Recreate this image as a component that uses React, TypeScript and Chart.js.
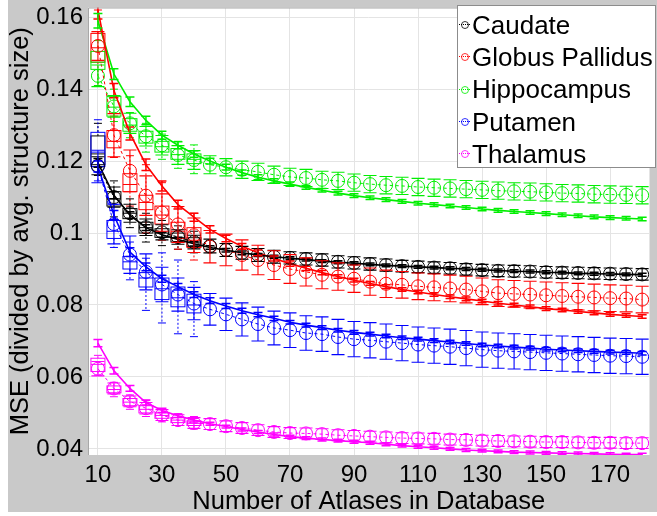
import React, { useEffect, useRef } from "react";
import { Chart, registerables } from "chart.js";

Chart.register(...registerables);

const FONT = '"Liberation Sans", Arial, Helvetica, sans-serif';

const atlasCounts = [10, 15, 20, 25, 30, 35, 40, 45, 50, 55, 60, 65, 70, 75, 80, 85, 90, 95, 100, 105, 110, 115, 120, 125, 130, 135, 140, 145, 150, 155, 160, 165, 170, 175, 180];
const boxCounts = [10, 15, 20, 25, 30, 35, 40];
const xTickValues = [10, 30, 50, 70, 90, 110, 130, 150, 170];
const yTickValues = [0.04, 0.06, 0.08, 0.1, 0.12, 0.14, 0.16];
const yTickLabels = ["0.04", "0.06", "0.08", "0.1", "0.12", "0.14", "0.16"];
const structureNames = ["Caudate", "Globus Pallidus", "Hippocampus", "Putamen", "Thalamus"];
const structureColors = ["#000000", "#ff0000", "#00ee00", "#0000ff", "#ff00ff"];

// Caudate
const caudateMean = [0.1187, 0.1100, 0.1055, 0.1016, 0.1002, 0.0989, 0.0975, 0.0964, 0.0953, 0.0945, 0.0939, 0.0934, 0.0931, 0.0928, 0.0925, 0.0920, 0.0917, 0.0914, 0.0911, 0.0908, 0.0906, 0.0904, 0.0902, 0.0899, 0.0897, 0.0895, 0.0894, 0.0893, 0.0891, 0.0890, 0.0889, 0.0888, 0.0887, 0.0886, 0.0885];
const caudateErr = [0.0025, 0.0028, 0.0025, 0.0023, 0.0021, 0.0020, 0.0019, 0.0019, 0.0018, 0.0018, 0.0018, 0.0018, 0.0017, 0.0017, 0.0017, 0.0017, 0.0017, 0.0017, 0.0017, 0.0016, 0.0016, 0.0016, 0.0016, 0.0016, 0.0016, 0.0016, 0.0016, 0.0016, 0.0016, 0.0016, 0.0016, 0.0016, 0.0016, 0.0016, 0.0016];
const caudateFit = [0.1195, 0.1105, 0.1050, 0.1015, 0.0995, 0.0982, 0.0970, 0.0960, 0.0952, 0.0945, 0.0939, 0.0934, 0.0930, 0.0926, 0.0922, 0.0919, 0.0916, 0.0913, 0.0910, 0.0908, 0.0906, 0.0904, 0.0902, 0.0900, 0.0898, 0.0896, 0.0894, 0.0893, 0.0891, 0.0890, 0.0888, 0.0887, 0.0886, 0.0885, 0.0884];
const caudateFitErr = [0.0012, 0.0010, 0.0009, 0.0008, 0.0007, 0.0006, 0.0006, 0.0005, 0.0005, 0.0005, 0.0004, 0.0004, 0.0004, 0.0004, 0.0004, 0.0004, 0.0004, 0.0004, 0.0004, 0.0004, 0.0004, 0.0004, 0.0004, 0.0004, 0.0004, 0.0004, 0.0004, 0.0004, 0.0004, 0.0004, 0.0004, 0.0004, 0.0004, 0.0004, 0.0004];
const caudateBoxes = [
  [0.1160, 0.1190, 0.1220, 0.1270, 0.1305],
  [0.1045, 0.1075, 0.1095, 0.1115, 0.1145],
  [0.1015, 0.1040, 0.1055, 0.1068, 0.1095],
  [0.0975, 0.1000, 0.1015, 0.1030, 0.1055],
  [0.0965, 0.0988, 0.1000, 0.1012, 0.1035],
  [0.0955, 0.0975, 0.0987, 0.1000, 0.1020],
  [0.0945, 0.0963, 0.0975, 0.0987, 0.1005],
];

// Globus Pallidus
const pallidusMean = [0.1520, 0.1272, 0.1173, 0.1104, 0.1057, 0.1024, 0.0994, 0.0962, 0.0953, 0.0939, 0.0925, 0.0911, 0.0900, 0.0892, 0.0884, 0.0879, 0.0873, 0.0865, 0.0859, 0.0856, 0.0852, 0.0849, 0.0846, 0.0843, 0.0838, 0.0833, 0.0831, 0.0829, 0.0827, 0.0825, 0.0823, 0.0821, 0.0819, 0.0818, 0.0815];
const pallidusErr = [0.0040, 0.0060, 0.0058, 0.0055, 0.0052, 0.0050, 0.0048, 0.0045, 0.0044, 0.0042, 0.0041, 0.0040, 0.0040, 0.0039, 0.0039, 0.0038, 0.0038, 0.0038, 0.0038, 0.0037, 0.0037, 0.0037, 0.0037, 0.0037, 0.0037, 0.0037, 0.0037, 0.0037, 0.0037, 0.0037, 0.0037, 0.0037, 0.0037, 0.0037, 0.0037];
const pallidusFit = [0.1620, 0.1396, 0.1277, 0.1190, 0.1131, 0.1079, 0.1044, 0.1010, 0.0985, 0.0963, 0.0945, 0.0929, 0.0915, 0.0902, 0.0890, 0.0879, 0.0869, 0.0860, 0.0851, 0.0843, 0.0836, 0.0829, 0.0823, 0.0817, 0.0811, 0.0805, 0.0800, 0.0795, 0.0790, 0.0786, 0.0782, 0.0778, 0.0774, 0.0771, 0.0768];
const pallidusFitErr = [0.0025, 0.0020, 0.0018, 0.0016, 0.0014, 0.0012, 0.0011, 0.0010, 0.0009, 0.0008, 0.0008, 0.0007, 0.0007, 0.0006, 0.0006, 0.0005, 0.0005, 0.0005, 0.0005, 0.0005, 0.0005, 0.0005, 0.0005, 0.0005, 0.0005, 0.0005, 0.0005, 0.0005, 0.0005, 0.0005, 0.0005, 0.0005, 0.0005, 0.0005, 0.0005];
const pallidusBoxes = [
  [0.1410, 0.1475, 0.1515, 0.1555, 0.1620],
  [0.1210, 0.1237, 0.1255, 0.1285, 0.1325],
  [0.1075, 0.1115, 0.1135, 0.1165, 0.1215],
  [0.1000, 0.1065, 0.1085, 0.1105, 0.1190],
  [0.0980, 0.1025, 0.1050, 0.1075, 0.1140],
  [0.0955, 0.0985, 0.1005, 0.1030, 0.1070],
  [0.0925, 0.0960, 0.0980, 0.1015, 0.1055],
];

// Hippocampus
const hippocampusMean = [0.1437, 0.1352, 0.1305, 0.1269, 0.1244, 0.1217, 0.1203, 0.1190, 0.1183, 0.1176, 0.1170, 0.1162, 0.1156, 0.1153, 0.1148, 0.1145, 0.1140, 0.1136, 0.1133, 0.1131, 0.1128, 0.1126, 0.1124, 0.1122, 0.1120, 0.1118, 0.1116, 0.1115, 0.1113, 0.1111, 0.1110, 0.1108, 0.1107, 0.1106, 0.1105];
const hippocampusErr = [0.0030, 0.0030, 0.0028, 0.0027, 0.0027, 0.0026, 0.0026, 0.0025, 0.0024, 0.0024, 0.0024, 0.0024, 0.0024, 0.0024, 0.0024, 0.0024, 0.0024, 0.0024, 0.0024, 0.0024, 0.0024, 0.0024, 0.0024, 0.0024, 0.0024, 0.0024, 0.0024, 0.0024, 0.0024, 0.0024, 0.0024, 0.0024, 0.0024, 0.0024, 0.0024];
const hippocampusFit = [0.1590, 0.1442, 0.1365, 0.1313, 0.1272, 0.1244, 0.1220, 0.1200, 0.1183, 0.1168, 0.1155, 0.1145, 0.1136, 0.1127, 0.1119, 0.1111, 0.1104, 0.1098, 0.1093, 0.1088, 0.1083, 0.1079, 0.1075, 0.1071, 0.1067, 0.1063, 0.1060, 0.1057, 0.1054, 0.1051, 0.1048, 0.1045, 0.1043, 0.1041, 0.1039];
const hippocampusFitErr = [0.0020, 0.0015, 0.0013, 0.0012, 0.0011, 0.0010, 0.0009, 0.0008, 0.0008, 0.0007, 0.0007, 0.0006, 0.0006, 0.0005, 0.0005, 0.0005, 0.0005, 0.0005, 0.0005, 0.0005, 0.0005, 0.0005, 0.0005, 0.0005, 0.0005, 0.0005, 0.0005, 0.0005, 0.0005, 0.0005, 0.0005, 0.0005, 0.0005, 0.0005, 0.0005];
const hippocampusBoxes = [
  [0.1410, 0.1455, 0.1475, 0.1505, 0.1535],
  [0.1310, 0.1325, 0.1350, 0.1380, 0.1400],
  [0.1265, 0.1283, 0.1300, 0.1318, 0.1335],
  [0.1225, 0.1250, 0.1268, 0.1283, 0.1305],
  [0.1205, 0.1225, 0.1240, 0.1255, 0.1275],
  [0.1180, 0.1205, 0.1218, 0.1235, 0.1255],
  [0.1165, 0.1193, 0.1205, 0.1220, 0.1245],
];

// Putamen
const putamenMean = [0.1185, 0.1025, 0.0940, 0.0892, 0.0857, 0.0829, 0.0804, 0.0788, 0.0774, 0.0760, 0.0747, 0.0736, 0.0730, 0.0722, 0.0719, 0.0711, 0.0705, 0.0702, 0.0698, 0.0694, 0.0690, 0.0687, 0.0684, 0.0680, 0.0676, 0.0673, 0.0671, 0.0669, 0.0667, 0.0665, 0.0663, 0.0661, 0.0659, 0.0658, 0.0656];
const putamenErr = [0.0045, 0.0055, 0.0052, 0.0050, 0.0048, 0.0046, 0.0045, 0.0044, 0.0045, 0.0046, 0.0047, 0.0047, 0.0048, 0.0048, 0.0048, 0.0049, 0.0049, 0.0049, 0.0049, 0.0049, 0.0049, 0.0049, 0.0049, 0.0049, 0.0049, 0.0049, 0.0049, 0.0049, 0.0049, 0.0049, 0.0049, 0.0049, 0.0049, 0.0049, 0.0049];
const putamenFit = [0.1185, 0.1050, 0.0947, 0.0906, 0.0873, 0.0851, 0.0829, 0.0812, 0.0797, 0.0784, 0.0773, 0.0763, 0.0752, 0.0744, 0.0737, 0.0730, 0.0724, 0.0719, 0.0714, 0.0709, 0.0705, 0.0701, 0.0697, 0.0693, 0.0689, 0.0686, 0.0683, 0.0680, 0.0677, 0.0675, 0.0673, 0.0671, 0.0669, 0.0668, 0.0666];
const putamenFitErr = [0.0015, 0.0013, 0.0012, 0.0011, 0.0010, 0.0009, 0.0008, 0.0008, 0.0007, 0.0007, 0.0006, 0.0006, 0.0005, 0.0005, 0.0005, 0.0005, 0.0005, 0.0005, 0.0005, 0.0005, 0.0005, 0.0005, 0.0005, 0.0005, 0.0005, 0.0005, 0.0005, 0.0005, 0.0005, 0.0005, 0.0005, 0.0005, 0.0005, 0.0005, 0.0005];
const putamenBoxes = [
  [0.1145, 0.1185, 0.1225, 0.1280, 0.1315],
  [0.0960, 0.0985, 0.1005, 0.1035, 0.1080],
  [0.0870, 0.0900, 0.0920, 0.0935, 0.0975],
  [0.0785, 0.0850, 0.0875, 0.0890, 0.0930],
  [0.0750, 0.0815, 0.0845, 0.0875, 0.0945],
  [0.0720, 0.0795, 0.0820, 0.0850, 0.0925],
  [0.0712, 0.0778, 0.0800, 0.0830, 0.0865],
];

// Thalamus
const thalamusMean = [0.0623, 0.0568, 0.0532, 0.0513, 0.0494, 0.0480, 0.0472, 0.0469, 0.0463, 0.0458, 0.0452, 0.0447, 0.0444, 0.0443, 0.0441, 0.0438, 0.0436, 0.0434, 0.0432, 0.0430, 0.0429, 0.0428, 0.0426, 0.0425, 0.0423, 0.0422, 0.0421, 0.0420, 0.0419, 0.0419, 0.0418, 0.0417, 0.0417, 0.0416, 0.0416];
const thalamusErr = [0.0020, 0.0015, 0.0015, 0.0016, 0.0015, 0.0015, 0.0015, 0.0015, 0.0015, 0.0015, 0.0015, 0.0015, 0.0015, 0.0015, 0.0015, 0.0015, 0.0015, 0.0015, 0.0015, 0.0015, 0.0015, 0.0015, 0.0015, 0.0015, 0.0015, 0.0015, 0.0015, 0.0015, 0.0015, 0.0015, 0.0015, 0.0015, 0.0015, 0.0015, 0.0015];
const thalamusFit = [0.0694, 0.0617, 0.0568, 0.0529, 0.0507, 0.0492, 0.0480, 0.0470, 0.0462, 0.0454, 0.0447, 0.0440, 0.0434, 0.0430, 0.0426, 0.0423, 0.0420, 0.0417, 0.0413, 0.0409, 0.0406, 0.0403, 0.0400, 0.0397, 0.0395, 0.0393, 0.0391, 0.0390, 0.0389, 0.0388, 0.0387, 0.0386, 0.0385, 0.0384, 0.0384];
const thalamusFitErr = [0.0010, 0.0009, 0.0008, 0.0007, 0.0006, 0.0005, 0.0005, 0.0004, 0.0004, 0.0004, 0.0004, 0.0004, 0.0004, 0.0004, 0.0004, 0.0004, 0.0004, 0.0004, 0.0004, 0.0004, 0.0004, 0.0004, 0.0004, 0.0004, 0.0004, 0.0004, 0.0004, 0.0004, 0.0004, 0.0004, 0.0004, 0.0004, 0.0004, 0.0004, 0.0004];
const thalamusBoxes = [
  [0.0605, 0.0615, 0.0635, 0.0652, 0.0660],
  [0.0545, 0.0556, 0.0565, 0.0575, 0.0585],
  [0.0510, 0.0520, 0.0530, 0.0540, 0.0550],
  [0.0490, 0.0500, 0.0510, 0.0520, 0.0535],
  [0.0475, 0.0485, 0.0493, 0.0500, 0.0512],
  [0.0465, 0.0473, 0.0480, 0.0487, 0.0497],
  [0.0455, 0.0465, 0.0471, 0.0478, 0.0490],
];

const seriesMeans = [caudateMean, pallidusMean, hippocampusMean, putamenMean, thalamusMean];
const seriesErrs = [caudateErr, pallidusErr, hippocampusErr, putamenErr, thalamusErr];
const seriesFits = [caudateFit, pallidusFit, hippocampusFit, putamenFit, thalamusFit];
const seriesFitErrs = [caudateFitErr, pallidusFitErr, hippocampusFitErr, putamenFitErr, thalamusFitErr];
const seriesBoxes = [caudateBoxes, pallidusBoxes, hippocampusBoxes, putamenBoxes, thalamusBoxes];

const figurePlugin = {
  id: "figureBackground",
  beforeDraw(chart: any) {
    const { ctx, chartArea, width, height } = chart;
    ctx.save();
    ctx.fillStyle = "#ffffff";
    ctx.fillRect(0, 0, width, height);
    ctx.fillStyle = "#c9c9c9";
    ctx.fillRect(8, 0, width - 8, 512);
    ctx.fillStyle = "#ffffff";
    ctx.fillRect(chartArea.left, chartArea.top, chartArea.right - chartArea.left, chartArea.bottom - chartArea.top);
    ctx.restore();
  },
  afterDraw(chart: any) {
    const { ctx, chartArea } = chart;
    ctx.save();
    ctx.strokeStyle = "#a8a8a8";
    ctx.lineWidth = 1;
    ctx.beginPath();
    ctx.moveTo(chartArea.left + 0.5, chartArea.bottom);
    ctx.lineTo(chartArea.left + 0.5, chartArea.top + 0.5);
    ctx.lineTo(chartArea.right, chartArea.top + 0.5);
    ctx.stroke();
    ctx.restore();
  },
};

function seg(ctx: CanvasRenderingContext2D, x1: number, y1: number, x2: number, y2: number) {
  ctx.beginPath();
  ctx.moveTo(x1, y1);
  ctx.lineTo(x2, y2);
  ctx.stroke();
}

const errorBoxPlugin = {
  id: "errorBoxes",
  beforeDatasetsDraw(chart: any) {
    const { ctx, chartArea, scales } = chart;
    const xs = scales.x;
    const ys = scales.y;
    ctx.save();
    ctx.beginPath();
    ctx.rect(chartArea.left, chartArea.top, chartArea.right - chartArea.left, chartArea.bottom - chartArea.top);
    ctx.clip();
    chart.data.datasets.forEach((ds: any) => {
      if (!ds.boxes) return;
      ctx.strokeStyle = ds.borderColor;
      ctx.lineWidth = 1;
      ds.boxes.forEach((b: number[], i: number) => {
        const px = xs.getPixelForValue(boxCounts[i]);
        const [lo, q1, med, q3, hi] = b.map((v) => ys.getPixelForValue(v));
        const hw = 7;
        ctx.setLineDash([]);
        ctx.strokeRect(px - hw, q3, hw * 2, q1 - q3);
        seg(ctx, px - hw, med, px + hw, med);
        seg(ctx, px - 4, lo, px + 4, lo);
        seg(ctx, px - 4, hi, px + 4, hi);
        ctx.setLineDash([2, 2]);
        seg(ctx, px, q1, px, lo);
        seg(ctx, px, q3, px, hi);
      });
    });
    ctx.restore();
  },
  afterDatasetsDraw(chart: any) {
    const { ctx, chartArea, scales } = chart;
    const xs = scales.x;
    const ys = scales.y;
    ctx.save();
    ctx.beginPath();
    ctx.rect(chartArea.left, chartArea.top, chartArea.right - chartArea.left, chartArea.bottom - chartArea.top);
    ctx.clip();
    ctx.setLineDash([]);
    chart.data.datasets.forEach((ds: any) => {
      if (!ds.errorBars) return;
      ctx.strokeStyle = ds.borderColor;
      ctx.lineWidth = ds.errorLineWidth;
      const cw = ds.capWidth / 2;
      ds.data.forEach((p: any, i: number) => {
        const e = ds.errorBars[i];
        const px = xs.getPixelForValue(p.x);
        const top = ys.getPixelForValue(p.y + e);
        const bot = ys.getPixelForValue(p.y - e);
        seg(ctx, px, top, px, bot);
        seg(ctx, px - cw, top, px + cw, top);
        seg(ctx, px - cw, bot, px + cw, bot);
      });
    });
    ctx.restore();
  },
};

function Legend() {
  return (
    <div
      style={{
        position: "absolute",
        left: 457,
        top: 5,
        width: 199,
        height: 163,
        background: "#ffffff",
        border: "1px solid #8c8c8c",
        fontFamily: FONT,
        fontSize: 26,
        color: "#000",
        paddingTop: 3,
        boxSizing: "border-box",
      }}
    >
      {structureNames.map((name, i) => (
        <div key={name} style={{ height: 32.2, lineHeight: "32.2px", whiteSpace: "nowrap", paddingLeft: 1 }}>
          <span style={{ position: "relative", display: "inline-block", width: 11, height: 10, marginRight: 2, verticalAlign: "middle", top: -2 }}>
            <span style={{ position: "absolute", left: 0, right: 0, top: 4, borderTop: `1px dotted ${structureColors[i]}` }} />
            <span style={{ position: "absolute", left: 2, top: 1, width: 6, height: 6, border: `1px solid ${structureColors[i]}`, borderRadius: "50%", opacity: 0.8 }} />
          </span>
          {name}
        </div>
      ))}
    </div>
  );
}

export default function App() {
  const canvasRef = useRef<HTMLCanvasElement | null>(null);

  useEffect(() => {
    if (!canvasRef.current) return;
    Chart.defaults.font.family = FONT;
    Chart.defaults.color = "#000";

    const fitSets = structureNames.map((name, s) => ({
      type: "line",
      label: name + " fit",
      data: atlasCounts.map((x, i) => ({ x, y: seriesFits[s][i] })),
      borderColor: structureColors[s],
      backgroundColor: structureColors[s],
      borderWidth: 1.6,
      pointRadius: 0,
      fill: false,
      tension: 0,
      errorBars: seriesFitErrs[s],
      errorLineWidth: 1.5,
      capWidth: 9,
    }));
    const meanSets = structureNames.map((name, s) => ({
      type: "line",
      label: name,
      data: atlasCounts.map((x, i) => ({ x, y: seriesMeans[s][i] })),
      borderColor: structureColors[s],
      backgroundColor: "rgba(0,0,0,0)",
      borderWidth: 1,
      borderDash: [3, 3],
      pointStyle: "circle",
      pointRadius: 6.5,
      pointBorderWidth: 1,
      pointBorderColor: structureColors[s],
      pointBackgroundColor: "rgba(0,0,0,0)",
      fill: false,
      tension: 0,
      errorBars: seriesErrs[s],
      errorLineWidth: 1.1,
      capWidth: 13,
      boxes: seriesBoxes[s],
    }));

    const chart = new Chart(canvasRef.current, {
      type: "line",
      data: { datasets: [...fitSets, ...meanSets] as any },
      options: {
        animation: false,
        responsive: false,
        devicePixelRatio: 1,
        layout: { padding: { left: 8, right: 0, top: 3, bottom: 0 } },
        plugins: { legend: { display: false }, tooltip: { enabled: false } },
        scales: {
          x: {
            type: "linear",
            min: 6.9,
            max: 182.3,
            afterBuildTicks: (s: any) => {
              s.ticks = xTickValues.map((v) => ({ value: v }));
            },
            afterFit: (s: any) => {
              s.height = 61;
              s.paddingLeft = 0;
              s.paddingRight = 0;
            },
            ticks: {
              autoSkip: false,
              maxRotation: 0,
              padding: 6,
              color: "#000",
              font: { size: 24, family: FONT },
              callback: (v: any) => String(v),
            },
            grid: { color: "#e4e4e4", drawTicks: false, lineWidth: 1 },
            border: { display: false },
            title: {
              display: true,
              text: "Number of Atlases in Database",
              color: "#000",
              font: { size: 25.5, family: FONT, lineHeight: 1 },
              padding: { top: 0, bottom: 1 },
            },
          },
          y: {
            type: "linear",
            min: 0.0383,
            max: 0.1627,
            afterBuildTicks: (s: any) => {
              s.ticks = yTickValues.map((v) => ({ value: v }));
            },
            afterFit: (s: any) => {
              s.width = 80;
              s.paddingTop = 0;
              s.paddingBottom = 0;
            },
            ticks: {
              autoSkip: false,
              padding: 5,
              color: "#000",
              font: { size: 24, family: FONT },
              callback: (v: any) => {
                const k = yTickValues.indexOf(v);
                return k >= 0 ? yTickLabels[k] : "";
              },
            },
            grid: { color: "#e4e4e4", drawTicks: false, lineWidth: 1 },
            border: { display: false },
            title: {
              display: true,
              text: "MSE (divided by avg. structure size)",
              color: "#000",
              font: { size: 25.5, family: FONT, lineHeight: 1 },
              padding: { top: 0, bottom: 0 },
            },
          },
        },
      } as any,
      plugins: [figurePlugin, errorBoxPlugin],
    });
    return () => chart.destroy();
  }, []);

  return (
    <div style={{ position: "absolute", left: 0, top: 0, width: 657, height: 516 }}>
      <canvas ref={canvasRef} width={657} height={516} style={{ width: 657, height: 516, display: "block" }} />
      <Legend />
    </div>
  );
}
